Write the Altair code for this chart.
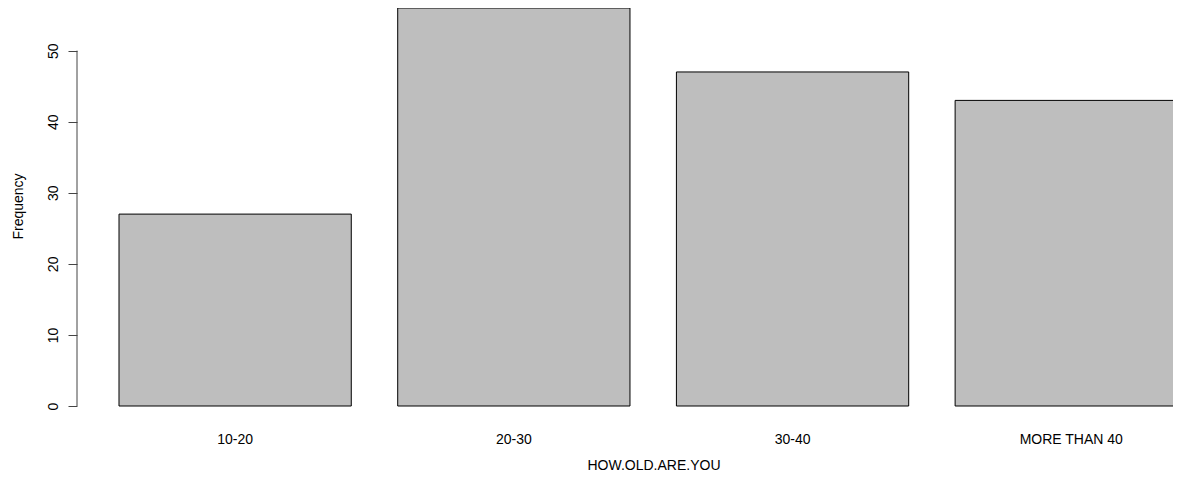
import altair as alt
import pandas as pd

categories = ["10-20", "20-30", "30-40", "MORE THAN 40"]
frequencies = [27, 56, 47, 43]
y_ticks = [0, 10, 20, 30, 40, 50]

bars_df = pd.DataFrame({"age": categories, "freq": frequencies})
axis_df = pd.DataFrame({"lo": [min(y_ticks)], "hi": [max(y_ticks)]})

FONT = "Liberation Sans"

x_scale = alt.Scale(domain=categories, range=[42, 1110.4], paddingInner=0.1666, paddingOuter=0)
y_scale = alt.Scale(domain=[0, 56], nice=False)

bars = alt.Chart(bars_df).mark_bar(
    fill="#BEBEBE", stroke="black", strokeWidth=1, clip=False
).encode(
    x=alt.X("age:N", scale=x_scale, sort=categories,
            axis=alt.Axis(title="HOW.OLD.ARE.YOU", labelAngle=0, ticks=False, domain=False,
                          labelPadding=37, labelBaseline="alphabetic", labelFontSize=14,
                          labelFont=FONT, labelColor="black",
                          titleFont=FONT, titleFontSize=14, titleFontWeight="normal",
                          titleColor="black", titleBaseline="alphabetic",
                          titleX=576.5, titleY=63, titleAnchor="middle", titleAlign="center")),
    y=alt.Y("freq:Q", scale=y_scale,
            axis=alt.Axis(title="Frequency", values=y_ticks, grid=False, domain=False,
                          tickSize=9, tickColor="#444", tickWidth=1,
                          labelAngle=270, labelAlign="center", labelBaseline="alphabetic",
                          labelPadding=11, labelFontSize=14, labelFont=FONT, labelColor="black",
                          titleFont=FONT, titleFontSize=14, titleFontWeight="normal",
                          titleColor="black", titleAngle=270, titleBaseline="alphabetic",
                          titleAlign="center", titleX=-54.5, titleY=198)),
)

yline = alt.Chart(axis_df).mark_rule(color="#444", strokeWidth=1).encode(
    x=alt.value(0),
    y=alt.Y("lo:Q", scale=y_scale),
    y2="hi:Q",
)

chart = alt.layer(bars, yline).properties(
    width=1096, height=398,
    autosize=alt.AutoSizeParams(type="none"),
    padding={"left": 69, "top": 0, "right": 0, "bottom": 68},
    background="white",
).configure_view(stroke=None)

chart.save("out.html", embed_options={"renderer": "svg", "actions": False})
